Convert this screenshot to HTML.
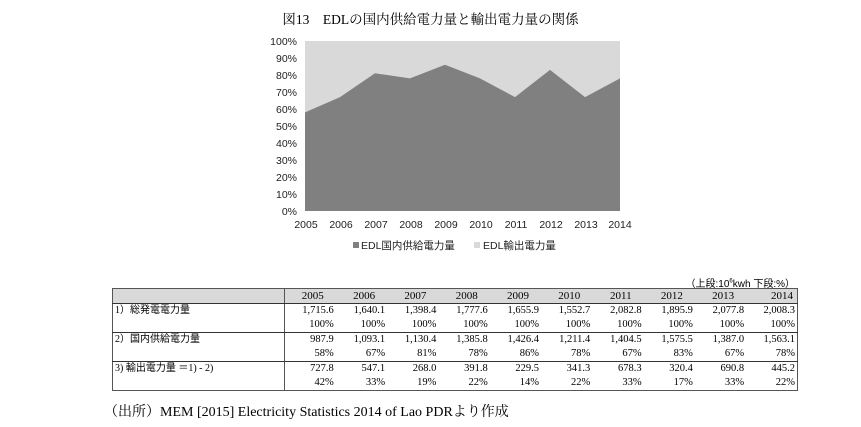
<!DOCTYPE html>
<html><head><meta charset="utf-8"><style>
body{margin:0;width:861px;height:427px;background:#fff;position:relative;overflow:hidden;font-family:"Liberation Serif","Noto Serif CJK SC",serif;color:#000}
.a{position:absolute;white-space:nowrap}
table{position:absolute;left:112px;top:288px;border-collapse:collapse;font-size:10.5px;width:686px;table-layout:fixed}
td{padding:0 2px;height:14px;text-align:right;line-height:14px;overflow:hidden;white-space:nowrap}
td.l{text-align:left;border-right:1px solid #555;font-family:"Liberation Serif","Noto Sans CJK JP",serif;font-size:10px}
tr.h td{background:#d9d9d9;text-align:right;padding-right:12px;height:14px;border-bottom:1px solid #333;font-size:11px}
tr.b td{border-bottom:1px solid #333}
</style></head><body>
<div class="a" style="left:0;width:861px;top:8px;text-align:center;font-size:13.5px;font-family:'Liberation Serif','Noto Serif CJK SC',serif">図13　EDLの国内供給電力量と輸出電力量の関係</div>
<svg class="a" style="left:0;top:0" width="861" height="270" font-family="Liberation Sans, DejaVu Sans, sans-serif" font-size="10.5">
<rect x="305" y="41" width="315" height="170" fill="#d9d9d9"/>
<polygon fill="#808080" points="305,211 305,112.4 340,97.1 375,73.3 410,78.4 445,64.8 480,78.4 515,97.1 550,69.9 585,97.1 620,78.4 620,211"/>
<g text-anchor="end" fill="#222">
<text x="297" y="45">100%</text><text x="297" y="62">90%</text><text x="297" y="79">80%</text><text x="297" y="96">70%</text><text x="297" y="113">60%</text><text x="297" y="130">50%</text><text x="297" y="147">40%</text><text x="297" y="164">30%</text><text x="297" y="181">20%</text><text x="297" y="198">10%</text><text x="297" y="215">0%</text>
</g>
<g text-anchor="middle" fill="#222">
<text x="306" y="228">2005</text><text x="341" y="228">2006</text><text x="376" y="228">2007</text><text x="411" y="228">2008</text><text x="446" y="228">2009</text><text x="481" y="228">2010</text><text x="516" y="228">2011</text><text x="551" y="228">2012</text><text x="586" y="228">2013</text><text x="620" y="228">2014</text>
</g>
<rect x="353" y="242" width="6" height="6" fill="#808080"/>
<text x="361" y="249" fill="#222" font-family="Liberation Sans, Noto Sans CJK JP, sans-serif">EDL国内供給電力量</text>
<rect x="474" y="242" width="6" height="6" fill="#d9d9d9"/>
<text x="483" y="249" fill="#222" font-family="Liberation Sans, Noto Sans CJK JP, sans-serif">EDL輸出電力量</text>
</svg>
<div class="a" style="right:66px;top:275px;font-size:10px;font-family:'Liberation Sans','Noto Sans CJK JP',sans-serif">（上段:10<sup style="font-size:6px">6</sup>kwh  下段:%）</div>
<table style="border:1px solid #555">
<colgroup><col style="width:172px"><col span="10"></colgroup>
<tr class="h"><td class="l"></td><td>2005</td><td>2006</td><td>2007</td><td>2008</td><td>2009</td><td>2010</td><td>2011</td><td>2012</td><td>2013</td><td style="padding-right:4px">2014</td></tr>
<tr><td class="l">1）総発電電力量</td><td>1,715.6</td><td>1,640.1</td><td>1,398.4</td><td>1,777.6</td><td>1,655.9</td><td>1,552.7</td><td>2,082.8</td><td>1,895.9</td><td>2,077.8</td><td>2,008.3</td></tr>
<tr class="b"><td class="l"></td><td>100%</td><td>100%</td><td>100%</td><td>100%</td><td>100%</td><td>100%</td><td>100%</td><td>100%</td><td>100%</td><td>100%</td></tr>
<tr><td class="l">2）国内供給電力量</td><td>987.9</td><td>1,093.1</td><td>1,130.4</td><td>1,385.8</td><td>1,426.4</td><td>1,211.4</td><td>1,404.5</td><td>1,575.5</td><td>1,387.0</td><td>1,563.1</td></tr>
<tr class="b"><td class="l"></td><td>58%</td><td>67%</td><td>81%</td><td>78%</td><td>86%</td><td>78%</td><td>67%</td><td>83%</td><td>67%</td><td>78%</td></tr>
<tr><td class="l">3) 輸出電力量 ＝1) - 2)</td><td>727.8</td><td>547.1</td><td>268.0</td><td>391.8</td><td>229.5</td><td>341.3</td><td>678.3</td><td>320.4</td><td>690.8</td><td>445.2</td></tr>
<tr><td class="l"></td><td>42%</td><td>33%</td><td>19%</td><td>22%</td><td>14%</td><td>22%</td><td>33%</td><td>17%</td><td>33%</td><td>22%</td></tr>
</table>
<div class="a" style="left:104px;top:401px;font-size:14px">（出所）MEM [2015] Electricity Statistics 2014 of Lao PDRより作成</div>
</body></html>
